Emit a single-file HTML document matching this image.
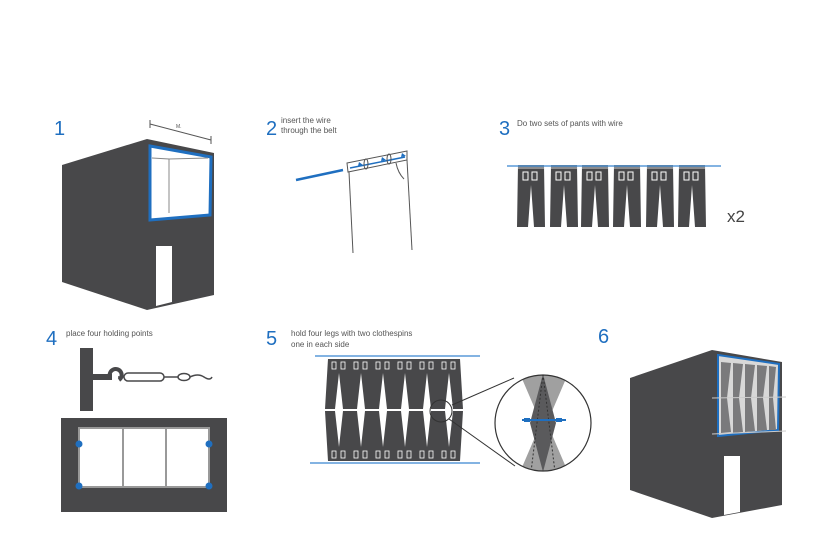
<!DOCTYPE html>
<html><head><meta charset="utf-8"><style>
html,body{margin:0;padding:0;background:#fff;}
svg{display:block;font-family:"Liberation Sans",sans-serif;}
.n{fill:#1f6fc0;font-size:20px;}
.t{fill:#555;font-size:8px;}
</style></head><body>
<svg width="818" height="542" viewBox="0 0 818 542" xmlns="http://www.w3.org/2000/svg">
<defs>
<g id="p">
<polygon points="1,0 27,0 28,62 17,62 14,20 11,62 0,62" fill="#48484a"/>
<rect x="6" y="7" width="5" height="8" fill="none" stroke="#fff" stroke-width="1"/>
<rect x="15" y="7" width="5" height="8" fill="none" stroke="#fff" stroke-width="1"/>
<line x1="1" y1="3" x2="27" y2="3" stroke="#fff" stroke-width="0.7"/>
</g>
<g id="q">
<polygon points="0,0 22,0 25,50 15,50 11,14 7,50 -3,50" fill="#48484a"/>
<rect x="4" y="3" width="4" height="7" fill="none" stroke="#fff" stroke-width="0.8"/>
<rect x="13" y="3" width="4" height="7" fill="none" stroke="#fff" stroke-width="0.8"/>
</g>
</defs>

<!-- Step 1 -->
<text x="54" y="135" class="n">1</text>
<line x1="150" y1="124" x2="211" y2="140" stroke="#555" stroke-width="1"/>
<line x1="150" y1="120" x2="150" y2="128" stroke="#555"/>
<line x1="211" y1="136" x2="211" y2="144" stroke="#555"/>
<text x="176" y="128" fill="#555" font-size="5">M.</text>
<polygon points="62,165 147,139 147,310 62,282" fill="#48484a"/>
<polygon points="147,139 214,153 214,295 147,310" fill="#48484a"/>
<polygon points="150,146 211,157 210,215 150,220" fill="#fff" stroke="#1f6fc0" stroke-width="3"/>
<polyline points="152,158 169,159 169,213" fill="none" stroke="#888" stroke-width="1"/>
<line x1="169" y1="159" x2="208" y2="158" stroke="#888"/>
<polygon points="156,246 172,246 172,302 156,306" fill="#fff"/>

<!-- Step 2 -->
<text x="266" y="135" class="n">2</text>
<text x="281" y="123" class="t">insert the wire</text>
<text x="281" y="133" class="t">through the belt</text>
<line x1="296" y1="180" x2="343" y2="170" stroke="#1f6fc0" stroke-width="2.5"/>
<polygon points="347,163 407,151 407,160 348,172" fill="#fff" stroke="#555" stroke-width="1"/>
<line x1="349" y1="172" x2="353" y2="253" stroke="#555"/>
<line x1="407" y1="160" x2="412" y2="250" stroke="#555"/>
<path d="M396,163 q2,10 8,16" fill="none" stroke="#555"/>
<line x1="350" y1="168" x2="405" y2="157" stroke="#1f6fc0" stroke-width="1.5"/>
<ellipse cx="366" cy="164" rx="2" ry="5" fill="none" stroke="#555"/>
<ellipse cx="389" cy="159" rx="2" ry="5" fill="none" stroke="#555"/>
<path d="M359,162 l4,3 l-5,1 z M382,157 l4,3 l-5,1z M402,153 l4,3 l-5,1z" fill="#1f6fc0"/>

<!-- Step 3 -->
<text x="499" y="135" class="n">3</text>
<text x="517" y="126" class="t">Do two sets of pants with wire</text>
<use href="#p" x="517" y="165"/>
<use href="#p" x="550" y="165"/>
<use href="#p" x="581" y="165"/>
<use href="#p" x="613" y="165"/>
<use href="#p" x="646" y="165"/>
<use href="#p" x="678" y="165"/>
<line x1="507" y1="166" x2="721" y2="166" stroke="#5a9ad8" stroke-width="1.5"/>
<text x="727" y="222" fill="#444" font-size="17">x2</text>

<!-- Step 4 -->
<text x="46" y="345" class="n">4</text>
<text x="66" y="336" class="t">place four holding points</text>
<rect x="80" y="348" width="13" height="63" fill="#48484a"/>
<rect x="92" y="374" width="20" height="6" fill="#48484a"/>
<path d="M110,377 a6,6 0 1 1 9,3" fill="none" stroke="#48484a" stroke-width="4"/>
<line x1="118" y1="377" x2="124" y2="377" stroke="#48484a" stroke-width="1.5"/>
<rect x="124" y="373" width="40" height="8" rx="4" fill="none" stroke="#48484a" stroke-width="1.5"/>
<line x1="164" y1="377" x2="178" y2="377" stroke="#48484a" stroke-width="1.5"/>
<ellipse cx="184" cy="377" rx="6" ry="3.5" fill="none" stroke="#48484a" stroke-width="1.5"/>
<path d="M190,377 q8,-4 14,0 t8,0" fill="none" stroke="#48484a" stroke-width="1.5"/>
<rect x="61" y="418" width="166" height="94" fill="#48484a"/>
<rect x="79" y="428" width="130" height="59" fill="#fff" stroke="#999" stroke-width="2"/>
<line x1="123" y1="428" x2="123" y2="487" stroke="#999" stroke-width="2"/>
<line x1="166" y1="428" x2="166" y2="487" stroke="#999" stroke-width="2"/>
<circle cx="79" cy="444" r="3.5" fill="#1f6fc0"/>
<circle cx="209" cy="444" r="3.5" fill="#1f6fc0"/>
<circle cx="79" cy="486" r="3.5" fill="#1f6fc0"/>
<circle cx="209" cy="486" r="3.5" fill="#1f6fc0"/>

<!-- Step 5 -->
<text x="266" y="345" class="n">5</text>
<text x="291" y="336" class="t">hold four legs with two clothespins</text>
<text x="291" y="347" class="t">one in each side</text>
<g>
<use href="#q" x="328" y="359"/>
<use href="#q" x="350" y="359"/>
<use href="#q" x="372" y="359"/>
<use href="#q" x="394" y="359"/>
<use href="#q" x="416" y="359"/>
<use href="#q" x="438" y="359"/>
<g transform="translate(0,870) scale(1,-1)">
<use href="#q" x="328" y="409"/>
<use href="#q" x="350" y="409"/>
<use href="#q" x="372" y="409"/>
<use href="#q" x="394" y="409"/>
<use href="#q" x="416" y="409"/>
<use href="#q" x="438" y="409"/>
</g>
</g>
<line x1="315" y1="356" x2="480" y2="356" stroke="#5a9ad8" stroke-width="1.5"/>
<line x1="310" y1="463" x2="480" y2="463" stroke="#5a9ad8" stroke-width="1.5"/>
<circle cx="441" cy="411" r="11" fill="none" stroke="#333" stroke-width="1"/>
<line x1="452" y1="405" x2="514" y2="378" stroke="#333"/>
<line x1="449" y1="419" x2="515" y2="466" stroke="#333"/>
<clipPath id="c"><circle cx="543" cy="423" r="48"/></clipPath>
<g clip-path="url(#c)">
<polygon points="520,374 568,374 547,423 568,472 520,472 541,423" fill="#a0a0a0"/>
<polygon points="543,374 556,423 543,472 530,423" fill="#5a5a5c"/>
<line x1="543" y1="374" x2="531" y2="472" stroke="#333" stroke-dasharray="2,2"/>
<line x1="543" y1="374" x2="555" y2="472" stroke="#333" stroke-dasharray="2,2"/>
</g>
<circle cx="543" cy="423" r="48" fill="none" stroke="#333" stroke-width="1.2"/>
<line x1="522" y1="420" x2="566" y2="420" stroke="#1f6fc0" stroke-width="2"/>
<rect x="524" y="418" width="6" height="4" fill="#1f6fc0"/>
<rect x="556" y="418" width="6" height="4" fill="#1f6fc0"/>

<!-- Step 6 -->
<text x="598" y="343" class="n">6</text>
<polygon points="630,378 712,350 712,518 630,490" fill="#48484a"/>
<polygon points="712,350 782,362 782,505 712,518" fill="#48484a"/>
<polygon points="718,355 779,364 778,430 718,436" fill="#d8d8d8" stroke="#1f6fc0" stroke-width="2"/>
<g fill="#7a7a7c">
<polygon points="721,362 731,363 727,398 731,432 721,433"/>
<polygon points="733,363 743,364 739,398 743,432 733,433"/>
<polygon points="745,364 755,365 751,398 755,431 745,432"/>
<polygon points="757,365 767,366 763,398 767,430 757,431"/>
<polygon points="769,366 776,367 773,398 776,430 769,430"/>
</g>
<line x1="712" y1="398" x2="786" y2="397" stroke="#ccc"/>
<line x1="712" y1="434" x2="786" y2="431" stroke="#ccc"/>
<polygon points="724,456 740,456 740,512 724,515" fill="#fff"/>
</svg>
</body></html>
